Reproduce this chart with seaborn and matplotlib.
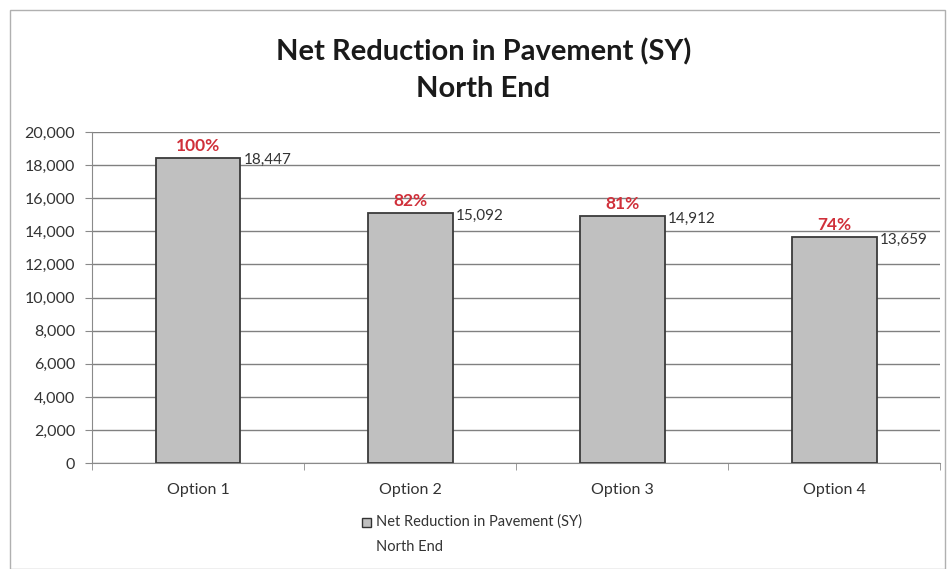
import matplotlib
matplotlib.use("Agg")
import matplotlib.pyplot as plt
import seaborn as sns
import pandas as pd
from matplotlib.patches import Rectangle
from matplotlib.ticker import FuncFormatter, FixedLocator

# data
options = ["Option 1", "Option 2", "Option 3", "Option 4"]
reduction_sy = [18447, 15092, 14912, 13659]
pct_labels = ["100%", "82%", "81%", "74%"]

sns.set_style("white")
plt.rcParams['font.family'] = ['Lato', 'DejaVu Sans']

df = pd.DataFrame({"option": options, "sy": reduction_sy})

fig = plt.figure(figsize=(9.48, 5.69), dpi=100)
ax = fig.add_axes([0.097, 0.186, 0.895, 0.582])

sns.barplot(data=df, x="option", y="sy", color="#c0c0c0", edgecolor="#3a3a3a",
            linewidth=1.3, width=0.4, saturation=1, ax=ax, zorder=3)

ax.set_xlim(-0.5, 3.5)
ax.set_ylim(0, 20000)
ax.set_yticks(range(0, 20001, 2000))
ax.yaxis.set_major_formatter(FuncFormatter(lambda v, p: f"{int(v):,}"))
ax.grid(axis="y", color="#808080", linewidth=1.0, zorder=0)
ax.set_axisbelow(True)
ax.set_xlabel("")
ax.set_ylabel("")

for s in ["top", "right"]:
    ax.spines[s].set_visible(False)
ax.spines["left"].set_color("#8a8a8a")
ax.spines["bottom"].set_color("#8a8a8a")
ax.tick_params(axis="y", length=5, color="#8a8a8a", labelsize=11.5, labelcolor="#333333",
               direction="out", left=True, pad=7)
ax.tick_params(axis="x", length=0, labelsize=11.5, labelcolor="#333333", pad=14)
ax.xaxis.set_minor_locator(FixedLocator([-0.5, 0.5, 1.5, 2.5, 3.5]))
ax.tick_params(axis="x", which="minor", length=5, color="#8a8a8a", direction="out", bottom=True)

# value labels to the right of each bar and percentages above
for i, (v, p) in enumerate(zip(reduction_sy, pct_labels)):
    ax.text(i + 0.215, v - 150, f"{v:,}", ha="left", va="center", fontsize=11, color="#333333", zorder=5)
    ax.text(i, v + 250, p, ha="center", va="bottom", fontsize=12.5, fontweight="bold",
            color="#d0303a", zorder=5)

fig.text(0.51, 0.909, "Net Reduction in Pavement (SY)", ha="center", va="center",
         fontsize=21, fontweight="bold", color="#1a1a1a")
fig.text(0.51, 0.843, "North End", ha="center", va="center",
         fontsize=21, fontweight="bold", color="#1a1a1a")

# legend
fig.patches.append(Rectangle((362 / 948, 1 - 527 / 569), 9 / 948, 9 / 569, transform=fig.transFigure,
                             facecolor="#c0c0c0", edgecolor="#333333", linewidth=1.0))
fig.text(376 / 948, 1 - 522 / 569, "Net Reduction in Pavement (SY)", ha="left", va="center",
         fontsize=10.5, color="#333333")
fig.text(376 / 948, 1 - 547 / 569, "North End", ha="left", va="center",
         fontsize=10.5, color="#333333")

# outer chart border
fig.patches.append(Rectangle((10 / 948, 0.0), 935 / 948, 1 - 10 / 569, transform=fig.transFigure,
                             fill=False, edgecolor="#b0b0b0", linewidth=1.0))

fig.savefig("out.png", dpi=100)
